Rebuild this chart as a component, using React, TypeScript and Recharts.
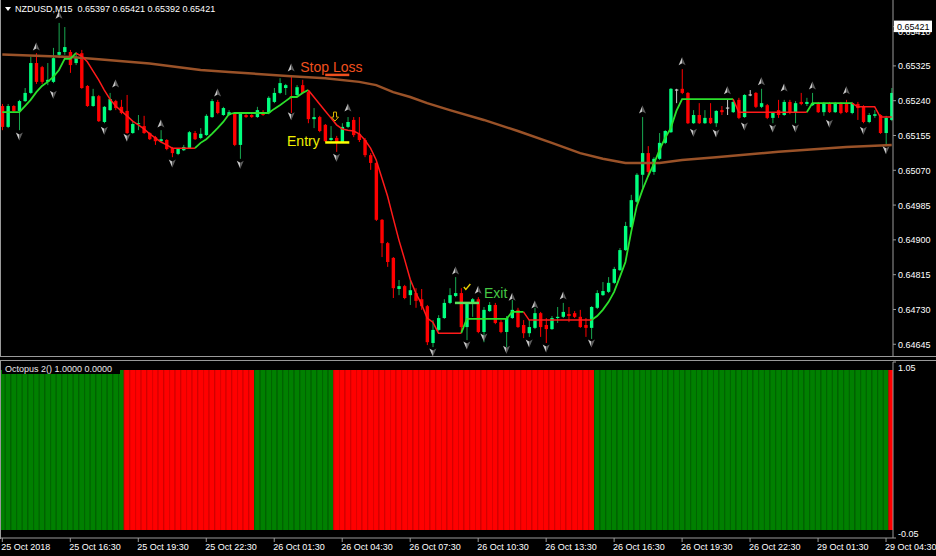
import React from 'react';
import { ComposedChart, Bar, Line, Scatter, XAxis, YAxis, ReferenceLine, ReferenceDot } from 'recharts';

const FONT = '"Liberation Sans", Arial, sans-serif';

// ---------- price data (NZDUSD M15) ----------
const open = [
  0.65227,0.65176,0.65227,0.65215,0.65239,0.65259,0.65332,0.65322,0.65286,0.65286,
  0.65352,0.65359,0.65359,0.65332,0.65356,0.65276,0.65227,0.65251,0.65188,0.65217,
  0.65239,0.65225,0.65215,0.65161,0.65183,0.65178,0.65161,0.65151,0.65141,0.65144,
  0.65124,0.65110,0.65119,0.65124,0.65161,0.65149,0.65156,0.65200,0.65237,0.65205,
  0.65205,0.65210,0.65132,0.65205,0.65205,0.65200,0.65212,0.65210,0.65237,0.65259,
  0.65271,0.65251,0.65254,0.65278,0.65261,0.65195,0.65200,0.65181,0.65144,0.65149,
  0.65139,0.65176,0.65193,0.65159,0.65144,0.65107,0.65088,0.64949,0.64892,0.64856,
  0.64780,0.64787,0.64765,0.64770,0.64755,0.64738,0.64648,0.64680,0.64709,0.64746,
  0.64763,0.64770,0.64687,0.64746,0.64755,0.64675,0.64726,0.64741,0.64699,0.64675,
  0.64709,0.64729,0.64692,0.64672,0.64685,0.64721,0.64692,0.64682,0.64709,0.64712,
  0.64719,0.64721,0.64712,0.64692,0.64685,0.64734,0.64765,0.64773,0.64795,0.64826,
  0.64875,0.64931,0.64993,0.65059,0.65112,0.65066,0.65098,0.65137,0.65163,0.65266,
  0.65269,0.65259,0.65185,0.65205,0.65185,0.65198,0.65185,0.65217,0.65222,0.65212,
  0.65242,0.65200,0.65254,0.65259,0.65225,0.65229,0.65198,0.65217,0.65205,0.65237,
  0.65212,0.65237,0.65232,0.65229,0.65234,0.65212,0.65234,0.65212,0.65234,0.65232,
  0.65210,0.65232,0.65227,0.65188,0.65203,0.65205,0.65161,0.65193,
];
const high = [
  0.65232,0.65232,0.65229,0.65242,0.65271,0.65347,0.65356,0.65325,0.65332,0.65369,
  0.65430,0.65420,0.65364,0.65359,0.65364,0.65278,0.65269,0.65254,0.65227,0.65259,
  0.65242,0.65242,0.65254,0.65188,0.65205,0.65203,0.65163,0.65154,0.65168,0.65146,
  0.65127,0.65124,0.65132,0.65166,0.65166,0.65173,0.65207,0.65244,0.65242,0.65225,
  0.65217,0.65212,0.65212,0.65207,0.65207,0.65225,0.65217,0.65251,0.65271,0.65295,
  0.65281,0.65298,0.65278,0.65291,0.65266,0.65222,0.65203,0.65183,0.65178,0.65154,
  0.65185,0.65200,0.65200,0.65200,0.65149,0.65112,0.65090,0.64951,0.64895,0.64858,
  0.64802,0.64790,0.64802,0.64782,0.64780,0.64741,0.64704,0.64716,0.64755,0.64782,
  0.64809,0.64782,0.64748,0.64758,0.64760,0.64736,0.64748,0.64746,0.64704,0.64714,
  0.64753,0.64734,0.64704,0.64704,0.64734,0.64724,0.64709,0.64714,0.64736,0.64746,
  0.64736,0.64726,0.64729,0.64709,0.64738,0.64777,0.64797,0.64809,0.64834,0.64880,
  0.64944,0.65010,0.65063,0.65200,0.65129,0.65102,0.65161,0.65168,0.65271,0.65269,
  0.65317,0.65261,0.65217,0.65234,0.65217,0.65234,0.65217,0.65227,0.65242,0.65242,
  0.65247,0.65256,0.65266,0.65261,0.65269,0.65232,0.65212,0.65242,0.65242,0.65242,
  0.65239,0.65259,0.65247,0.65259,0.65237,0.65237,0.65237,0.65237,0.65237,0.65242,
  0.65237,0.65237,0.65229,0.65210,0.65217,0.65207,0.65203,0.65271,
];
const low = [
  0.65168,0.65173,0.65212,0.65168,0.65237,0.65256,0.65281,0.65281,0.65278,0.65283,
  0.65344,0.65352,0.65308,0.65327,0.65269,0.65225,0.65225,0.65188,0.65185,0.65215,
  0.65217,0.65207,0.65159,0.65159,0.65168,0.65159,0.65144,0.65132,0.65139,0.65119,
  0.65102,0.65107,0.65117,0.65122,0.65144,0.65146,0.65154,0.65198,0.65207,0.65203,
  0.65203,0.65129,0.65098,0.65198,0.65198,0.65198,0.65203,0.65207,0.65234,0.65256,
  0.65254,0.65210,0.65251,0.65256,0.65185,0.65173,0.65163,0.65139,0.65141,0.65115,
  0.65137,0.65173,0.65151,0.65139,0.65102,0.65071,0.64946,0.64858,0.64834,0.64758,
  0.64765,0.64755,0.64741,0.64734,0.64729,0.64643,0.64638,0.64677,0.64707,0.64743,
  0.64760,0.64672,0.64655,0.64712,0.64672,0.64650,0.64724,0.64694,0.64672,0.64638,
  0.64707,0.64685,0.64660,0.64663,0.64682,0.64663,0.64648,0.64680,0.64697,0.64709,
  0.64699,0.64709,0.64685,0.64663,0.64658,0.64731,0.64763,0.64770,0.64792,0.64824,
  0.64873,0.64929,0.64990,0.65027,0.65054,0.65059,0.65095,0.65134,0.65161,0.65234,
  0.65256,0.65183,0.65183,0.65183,0.65183,0.65183,0.65176,0.65205,0.65205,0.65210,
  0.65195,0.65198,0.65251,0.65222,0.65222,0.65195,0.65185,0.65198,0.65203,0.65207,
  0.65185,0.65229,0.65227,0.65227,0.65210,0.65203,0.65210,0.65210,0.65207,0.65210,
  0.65207,0.65193,0.65185,0.65185,0.65198,0.65159,0.65132,0.65190,
];
const close = [
  0.65176,0.65227,0.65215,0.65239,0.65259,0.65332,0.65286,0.65286,0.65291,0.65344,
  0.65359,0.65371,0.65327,0.65347,0.65271,0.65227,0.65251,0.65190,0.65225,0.65244,
  0.65222,0.65210,0.65161,0.65183,0.65185,0.65161,0.65146,0.65141,0.65146,0.65122,
  0.65112,0.65122,0.65127,0.65163,0.65146,0.65159,0.65203,0.65239,0.65210,0.65222,
  0.65212,0.65132,0.65210,0.65200,0.65200,0.65217,0.65205,0.65247,0.65259,0.65283,
  0.65278,0.65249,0.65273,0.65259,0.65195,0.65200,0.65166,0.65141,0.65149,0.65139,
  0.65176,0.65188,0.65156,0.65144,0.65107,0.65088,0.64949,0.64892,0.64846,0.64782,
  0.64787,0.64758,0.64777,0.64751,0.64738,0.64650,0.64680,0.64709,0.64746,0.64765,
  0.64770,0.64687,0.64746,0.64755,0.64675,0.64729,0.64741,0.64697,0.64675,0.64709,
  0.64729,0.64687,0.64672,0.64687,0.64721,0.64687,0.64682,0.64709,0.64712,0.64724,
  0.64714,0.64712,0.64687,0.64685,0.64736,0.64770,0.64775,0.64795,0.64829,0.64875,
  0.64934,0.64997,0.65059,0.65112,0.65066,0.65098,0.65137,0.65166,0.65269,0.65266,
  0.65259,0.65185,0.65205,0.65185,0.65198,0.65185,0.65215,0.65212,0.65222,0.65237,
  0.65198,0.65254,0.65254,0.65225,0.65234,0.65198,0.65210,0.65205,0.65237,0.65210,
  0.65234,0.65232,0.65237,0.65234,0.65212,0.65234,0.65212,0.65234,0.65210,0.65212,
  0.65234,0.65222,0.65188,0.65205,0.65207,0.65161,0.65198,0.65259,
];

// ---------- slow moving average (brown), read at knots ----------
const maBar = [0,12,17,26,35,40,51,57,63,66,69,72,75,79,85,91,97,102,106,110,116,120,126,137,149,157];
const maVal = [0.65353,0.65347,0.65341,0.65331,0.65315,0.65310,0.65300,0.65295,0.65286,0.65278,0.65261,0.65249,0.65234,0.65217,0.65193,0.65166,0.65137,0.65112,0.65098,0.65088,0.65088,0.65095,0.65102,0.65115,0.65127,0.65132];

// ---------- trailing step line ----------
const trail = [
  0.65212,0.65212,0.65212,0.65212,0.65227,0.65242,0.65261,0.65276,0.65286,0.65298,
  0.65315,0.65342,0.65342,0.65356,0.65349,0.65335,0.65313,0.65291,0.65266,0.65244,
  0.65227,0.65215,0.65203,0.65190,0.65181,0.65171,0.65159,0.65149,0.65139,0.65132,
  0.65124,0.65124,0.65124,0.65124,0.65124,0.65137,0.65146,0.65159,0.65173,0.65188,
  0.65207,0.65210,0.65210,0.65210,0.65210,0.65210,0.65210,0.65210,0.65220,0.65229,
  0.65239,0.65249,0.65249,0.65259,0.65266,0.65249,0.65232,0.65215,0.65198,0.65181,
  0.65171,0.65168,0.65166,0.65159,0.65144,0.65124,0.65095,0.65051,0.65007,0.64953,
  0.64900,0.64853,0.64804,0.64770,0.64743,0.64709,0.64699,0.64672,0.64672,0.64672,
  0.64672,0.64672,0.64707,0.64707,0.64707,0.64707,0.64707,0.64707,0.64707,0.64707,
  0.64724,0.64724,0.64724,0.64704,0.64704,0.64704,0.64704,0.64704,0.64704,0.64704,
  0.64704,0.64704,0.64704,0.64704,0.64704,0.64714,0.64729,0.64748,0.64773,0.64809,
  0.64846,0.64919,0.64983,0.65022,0.65056,0.65085,0.65119,0.65149,0.65173,0.65215,
  0.65244,0.65244,0.65244,0.65244,0.65244,0.65244,0.65244,0.65244,0.65244,0.65244,
  0.65212,0.65212,0.65212,0.65212,0.65212,0.65212,0.65212,0.65212,0.65212,0.65212,
  0.65212,0.65212,0.65212,0.65234,0.65234,0.65234,0.65234,0.65234,0.65234,0.65234,
  0.65234,0.65225,0.65225,0.65225,0.65225,0.65200,0.65200,0.65200,
];
const trendRuns: [number, number, 'up' | 'dn'][] = [
  [0,13,'up'],[13,34,'dn'],[34,54,'up'],[54,81,'dn'],[81,92,'up'],
  [92,104,'dn'],[104,129,'up'],[129,142,'dn'],[142,150,'up'],[150,157,'dn'],
];

// ---------- fractal arrows ----------
const fracUpIdx = [6,10,20,28,38,51,61,80,84,90,94,99,113,120,128,134,138,143,149];
const fracUpVal = [0.65371,0.65449,0.65281,0.65183,0.65259,0.65320,0.65222,0.64824,0.64777,0.64760,0.64741,0.64763,0.65217,0.65335,0.65264,0.65286,0.65271,0.65276,0.65264];
const fracDnIdx = [3,9,18,22,30,42,51,59,76,82,85,89,93,96,104,122,126,131,136,140,146,152,156];
const fracDnVal = [0.65154,0.65256,0.65168,0.65151,0.65088,0.65085,0.65203,0.65102,0.64626,0.64643,0.64663,0.64633,0.64648,0.64636,0.64648,0.65163,0.65161,0.65178,0.65173,0.65173,0.65185,0.65168,0.65120];

// ---------- Octopus 2 histogram state (1 = green, -1 = red) ----------
const octoRuns: [number, number, number][] = [[0,21,1],[22,44,-1],[45,58,1],[59,104,-1],[105,156,1],[157,157,-1]];

// ---------- axes ----------
const priceTicks = [0.64645,0.6473,0.64815,0.649,0.64985,0.6507,0.65155,0.6524,0.65325,0.6541];
const currentPrice = 0.65421;
const timeTickBars = [0,12,24,36,48,60,72,84,96,108,120,132,144,156];
const timeTickLabels = ['25 Oct 2018','25 Oct 16:30','25 Oct 19:30','25 Oct 22:30','26 Oct 01:30','26 Oct 04:30','26 Oct 07:30','26 Oct 10:30','26 Oct 13:30','26 Oct 16:30','26 Oct 19:30','26 Oct 22:30','29 Oct 01:30','29 Oct 04:30'];
const octoTicks = [1.05, -0.05];
const titleText = 'NZDUSD,M15  0.65397 0.65421 0.65392 0.65421';
const octoTitle = 'Octopus 2() 1.0000 0.0000';

// ---------- table ----------
const rows: any[] = open.map((o, i) => ({
  i, o, h: high[i], l: low[i], c: close[i], hl: [low[i], high[i]],
  ma: null, trUp: null, trDn: null, fu: null, fd: null, os: 1, one: 1,
}));
maBar.forEach((b, k) => { rows[b].ma = maVal[k]; });
trendRuns.forEach(([a, b, t]) => { for (let i = a; i <= b; i++) rows[i][t === 'up' ? 'trUp' : 'trDn'] = trail[i]; });
fracUpIdx.forEach((b, k) => { rows[b].fu = fracUpVal[k]; });
fracDnIdx.forEach((b, k) => { rows[b].fd = fracDnVal[k]; });
octoRuns.forEach(([a, b, s]) => { for (let i = a; i <= b; i++) rows[i].os = s; });

const X_DOMAIN: [number, number] = [-0.41, 157.23];
const GRAY = '#9a9a9a';

const Candle = (props: any) => {
  const { x, y, width, height, payload } = props;
  if (!payload || x == null) return <g />;
  const cx = x + width / 2;
  const top = Math.min(y, y + height);
  const hgt = Math.abs(height);
  const { o, h, l, c } = payload;
  const span = h - l;
  const py = (p: number) => (span > 0 ? top + ((h - p) / span) * hgt : top);
  const yo = py(o), yc = py(c);
  const doji = o === c;
  const bull = c > o;
  const body = bull ? '#00FF7F' : '#FF0000';
  const wick = doji ? '#C8C8C8' : bull ? '#18A850' : '#FF0000';
  const bw = 3.4;
  return (
    <g>
      <line x1={cx} x2={cx} y1={top} y2={top + hgt} stroke={wick} strokeWidth={1} />
      {doji ? (
        <line x1={cx - bw / 2} x2={cx + bw / 2} y1={yo} y2={yo} stroke={wick} strokeWidth={1.2} />
      ) : (
        <rect x={cx - bw / 2} y={Math.min(yo, yc)} width={bw} height={Math.max(Math.abs(yc - yo), 1)} fill={body} />
      )}
    </g>
  );
};

const FracUp = (props: any) => {
  const { cx, cy, payload } = props;
  if (!payload || payload.fu == null) return <g />;
  return (
    <g transform={`translate(${cx},${cy})`}>
      <path d="M0,-4.5 L-3.5,3.5 L0,1.5 Z" fill="#C8C8C8" />
      <path d="M0,-4.5 L3.5,3.5 L0,1.5 Z" fill="#5E5E5E" />
    </g>
  );
};
const FracDn = (props: any) => {
  const { cx, cy, payload } = props;
  if (!payload || payload.fd == null) return <g />;
  return (
    <g transform={`translate(${cx},${cy})`}>
      <path d="M0,4.5 L-3.5,-3.5 L0,-1.5 Z" fill="#C8C8C8" />
      <path d="M0,4.5 L3.5,-3.5 L0,-1.5 Z" fill="#5E5E5E" />
    </g>
  );
};

const OctoBar = (props: any) => {
  const { x, y, width, height, payload } = props;
  if (!payload || x == null) return <g />;
  const cx = x + width / 2;
  const w = 5.7;
  const up = payload.os > 0;
  return (
    <g>
      <rect x={cx - w / 2} y={y} width={w} height={height} fill={up ? '#008000' : '#FF0000'} />
      <rect x={cx - w / 2} y={y} width={1} height={height} fill={up ? '#006400' : '#DD0000'} />
    </g>
  );
};

const PriceTick = (props: any) => {
  const { x, y, payload } = props;
  const v = payload.value;
  if (Math.abs(v - currentPrice) < 1e-7) {
    return (
      <g>
        <rect x={x - 4} y={y - 6} width={38} height={11.5} fill="#FFFFFF" />
        <text x={x - 1} y={y + 3.5} fontSize={9} fontFamily={FONT} fill="#000">{v.toFixed(5)}</text>
      </g>
    );
  }
  return <text x={x} y={y + 3.5} fontSize={9} fontFamily={FONT} fill="#FFFFFF">{v.toFixed(5)}</text>;
};

const OctoTick = (props: any) => {
  const { x, y, payload } = props;
  const v = payload.value;
  return <text x={x} y={v > 0 ? y + 9 : y - 1} fontSize={9} fontFamily={FONT} fill="#FFFFFF">{v.toFixed(2)}</text>;
};

const TimeTick = (props: any) => {
  const { x, y, payload } = props;
  const k = timeTickBars.indexOf(payload.value);
  return <text x={x - 1} y={y + 6} fontSize={9} fontFamily={FONT} fill="#FFFFFF">{timeTickLabels[k]}</text>;
};

const textShape = (label: string, color: string, size: number) => (p: any) => (
  <text x={p.cx} y={p.cy} fontSize={size} fontFamily={FONT} fill={color}>{label}</text>
);

const hollowArrow = (p: any) => (
  <path transform={`translate(${p.cx},${p.cy})`} d="M-1.5,-5 L1.5,-5 L1.5,0 L3.5,0 L0,4 L-3.5,0 L-1.5,0 Z" fill="none" stroke="#D8B400" strokeWidth={1} />
);
const checkMark = (p: any) => (
  <path transform={`translate(${p.cx},${p.cy})`} d="M-3,0 L-1,2.5 L3.5,-3" fill="none" stroke="#E8D000" strokeWidth={1.4} />
);

export default function App() {
  return (
    <div style={{ position: 'absolute', left: 0, top: 0, width: 936, height: 556, background: '#000', overflow: 'hidden', fontFamily: FONT }}>
      <div style={{ position: 'absolute', left: 0, top: 0 }}>
        <ComposedChart width={936} height={356} data={rows} margin={{ top: 0, right: 0, bottom: 0, left: 0 }}>
          <XAxis hide type="number" dataKey="i" domain={X_DOMAIN} allowDataOverflow />
          <YAxis
            orientation="right" type="number" domain={[0.646163, 0.65486]} allowDataOverflow
            ticks={[...priceTicks, currentPrice]} interval={0} width={43}
            axisLine={{ stroke: GRAY }} tickLine={{ stroke: GRAY }} tickSize={3} tickMargin={2}
            tick={PriceTick}
          />
          <Line dataKey="ma" stroke="#9A5228" strokeWidth={2.5} dot={false} activeDot={false} connectNulls isAnimationActive={false} />
          <Bar dataKey="hl" barSize={4} shape={Candle} isAnimationActive={false} />
          <Line dataKey="trUp" stroke="#2BE02B" strokeWidth={1.8} dot={false} activeDot={false} isAnimationActive={false} />
          <Line dataKey="trDn" stroke="#FF1A1A" strokeWidth={1.5} dot={false} activeDot={false} isAnimationActive={false} />
          <Scatter dataKey="fu" shape={FracUp} isAnimationActive={false} />
          <Scatter dataKey="fd" shape={FracDn} isAnimationActive={false} />
          <ReferenceLine segment={[{ x: 57.0, y: 0.65303 }, { x: 61.25, y: 0.65303 }]} stroke="#F0501E" strokeWidth={2.5} />
          <ReferenceLine segment={[{ x: 57.0, y: 0.65138 }, { x: 61.25, y: 0.65138 }]} stroke="#FFFF00" strokeWidth={2.5} />
          <ReferenceLine segment={[{ x: 79.9, y: 0.64746 }, { x: 84.15, y: 0.64746 }]} stroke="#5AE05A" strokeWidth={2.5} />
          <ReferenceDot x={52.6} y={0.6531} r={0} ifOverflow="visible" shape={textShape('Stop Loss', '#F0501E', 14)} />
          <ReferenceDot x={50.26} y={0.65129} r={0} ifOverflow="visible" shape={textShape('Entry', '#F0F000', 14)} />
          <ReferenceDot x={85.03} y={0.64758} r={0} ifOverflow="visible" shape={textShape('Exit', '#45C845', 14)} />
          <ReferenceDot x={58.73} y={0.652} r={0} ifOverflow="visible" shape={hollowArrow} />
          <ReferenceDot x={82.0} y={0.64785} r={0} ifOverflow="visible" shape={checkMark} />
        </ComposedChart>
      </div>
      <div style={{ position: 'absolute', left: 0, top: 360 }}>
        <ComposedChart width={936} height={196} data={rows} margin={{ top: 2, right: 0, bottom: 0, left: 0 }}>
          <XAxis
            type="number" dataKey="i" domain={X_DOMAIN} allowDataOverflow ticks={timeTickBars} interval={0}
            height={18} axisLine={{ stroke: GRAY }} tickLine={{ stroke: GRAY }} tickSize={4} tickMargin={2}
            tick={TimeTick}
          />
          <YAxis
            orientation="right" type="number" domain={[-0.05, 1.05]} allowDataOverflow ticks={octoTicks} interval={0}
            width={43} axisLine={{ stroke: GRAY }} tickLine={{ stroke: GRAY }} tickSize={3} tickMargin={2}
            tick={OctoTick}
          />
          <Bar dataKey="one" barSize={6} shape={OctoBar} isAnimationActive={false} />
        </ComposedChart>
      </div>
      <svg width={936} height={556} style={{ position: 'absolute', left: 0, top: 0, pointerEvents: 'none' }}>
        <line x1={0} x2={936} y1={356.5} y2={356.5} stroke={GRAY} />
        <line x1={0} x2={936} y1={360.5} y2={360.5} stroke={GRAY} />
        <line x1={0.5} x2={0.5} y1={0} y2={356} stroke={GRAY} />
        <line x1={0.5} x2={0.5} y1={361} y2={539} stroke={GRAY} />
        <path d="M5,7 L11,7 L8,11 Z" fill="#FFFFFF" />
        <text x={15} y={12} fontSize={9} fontFamily={FONT} fill="#FFFFFF" style={{ whiteSpace: 'pre' }}>{titleText}</text>
        <rect x={2} y={363} width={118} height={11} fill="#000" />
        <text x={5} y={372} fontSize={9} fontFamily={FONT} fill="#E8E8E8">{octoTitle}</text>
      </svg>
    </div>
  );
}
